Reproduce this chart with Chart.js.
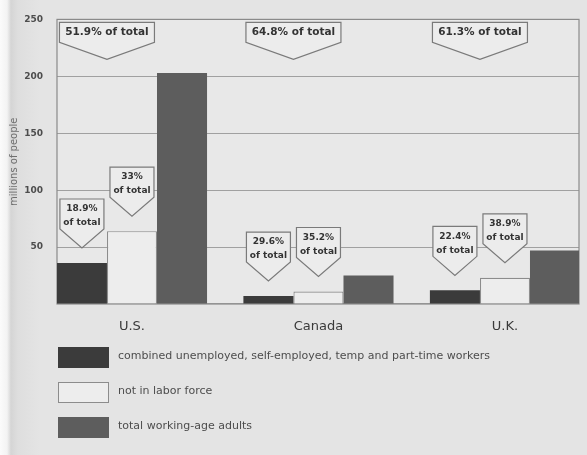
<!DOCTYPE html>
<html>
<head>
<meta charset="utf-8">
<script src="https://cdn.jsdelivr.net/npm/chart.js@4.4.1/dist/chart.umd.min.js"></script>
<style>
  html, body { margin: 0; padding: 0; }
  body {
    width: 587px; height: 455px; overflow: hidden; position: relative;
    background: linear-gradient(to right, #fbfbfb 0px, #f3f3f3 7px, #d5d5d5 11px, #dedede 18px, #e4e4e4 40px, #e4e4e4 100%);
    font-family: "DejaVu Sans", sans-serif;
  }
  #wrap { position: absolute; left: 0; top: 0; width: 587px; height: 455px; }
  .legend { position: absolute; left: 58px; top: 347px; }
  .legend-item { display: flex; align-items: center; height: 21px; margin-bottom: 14px; }
  .swatch { width: 51px; height: 21px; box-sizing: border-box; }
  .legend-text { margin-left: 9px; font-size: 11px; color: #4d4d4d; position: relative; top: -2px; }
</style>
</head>
<body>
<div id="wrap"><canvas id="chart" width="587" height="455"></canvas></div>
<div class="legend" id="legend"></div>
<script>
// chart values (millions of people)
const categories = ['U.S.', 'Canada', 'U.K.'];
const combinedWorkers = [36, 7, 12];
const notInLaborForce = [64, 11, 23];
const workingAgeAdults = [203, 25, 47];

// "% of total" callouts
const combinedShare = ['18.9%', '29.6%', '22.4%'];
const notInLaborShare = ['33%', '35.2%', '38.9%'];
const jointShare = ['51.9%', '64.8%', '61.3%'];

const seriesNames = [
    'combined unemployed, self-employed, temp and part-time workers',
    'not in labor force',
    'total working-age adults'
];
const seriesFill = ['#3b3b3b', '#ededed', '#5d5d5d'];
const seriesBorder = ['#3b3b3b', '#8c8c8c', '#5d5d5d'];

const toPoints = values => values.map((v, i) => ({ x: i, y: v }));

/**
 * Pentagon shaped callout pointing down at (cx, tipY)
 */
function drawCallout(ctx, cx, tipY, w, bodyH, notchH, lines, font, lineGap) {
    const top = tipY - bodyH - notchH;
    ctx.save();
    ctx.beginPath();
    ctx.moveTo(cx - w / 2, top);
    ctx.lineTo(cx + w / 2, top);
    ctx.lineTo(cx + w / 2, top + bodyH);
    ctx.lineTo(cx, tipY);
    ctx.lineTo(cx - w / 2, top + bodyH);
    ctx.closePath();
    ctx.fillStyle = '#ececec';
    ctx.fill();
    ctx.lineWidth = 1.2;
    ctx.strokeStyle = '#7a7a7a';
    ctx.stroke();
    ctx.fillStyle = '#333';
    ctx.font = font;
    ctx.textAlign = 'center';
    ctx.textBaseline = 'middle';
    lines.forEach((line, i) => {
        ctx.fillText(line, cx, top + 10 + i * lineGap);
    });
    ctx.restore();
}

const framePlugin = {
    id: 'frame',
    beforeDraw(chart) {
        const { ctx, chartArea: a } = chart;
        ctx.save();
        ctx.fillStyle = '#e8e8e8';
        ctx.fillRect(a.left, a.top, a.right - a.left, a.bottom - a.top);
        ctx.restore();
    },
    beforeDatasetsDraw(chart) {
        const { ctx, chartArea: a } = chart;
        ctx.save();
        ctx.strokeStyle = '#8a8a8a';
        ctx.lineWidth = 1.2;
        ctx.strokeRect(a.left, a.top, a.right - a.left, a.bottom - a.top);
        ctx.restore();
    }
};

const calloutPlugin = {
    id: 'callouts',
    afterDatasetsDraw(chart) {
        const { ctx, chartArea } = chart;
        const dark = chart.getDatasetMeta(0).data;
        const light = chart.getDatasetMeta(1).data;
        const smallFont = 'bold 9px "DejaVu Sans", sans-serif';
        categories.forEach((c, i) => {
            drawCallout(ctx, dark[i].x, dark[i].y - 15, 44, 30, 19,
                [combinedShare[i], 'of total'], smallFont, 14);
            drawCallout(ctx, light[i].x, light[i].y - 15, 44, 30, 19,
                [notInLaborShare[i], 'of total'], smallFont, 14);
            const mid = (dark[i].x + light[i].x) / 2;
            drawCallout(ctx, mid, chartArea.top + 40, 95, 20, 17,
                [jointShare[i] + ' of total'], 'bold 10.5px "DejaVu Sans", sans-serif', 0);
        });
    }
};

const valueSets = [combinedWorkers, notInLaborForce, workingAgeAdults];

new Chart(document.getElementById('chart'), {
    type: 'bar',
    data: {
        datasets: valueSets.map((values, k) => ({
            label: seriesNames[k],
            data: toPoints(values),
            backgroundColor: seriesFill[k],
            borderColor: seriesBorder[k],
            borderWidth: k === 1 ? 1.2 : 0,
            categoryPercentage: 0.805,
            barPercentage: 1
        }))
    },
    options: {
        responsive: false,
        animation: false,
        layout: { padding: { top: 19, right: 8, left: 0, bottom: 0 } },
        plugins: {
            legend: { display: false },
            tooltip: { enabled: false }
        },
        scales: {
            x: {
                type: 'linear',
                min: -0.402,
                max: 2.397,
                offset: false,
                grid: { display: false, drawTicks: false, offset: false },
                border: { display: false },
                afterBuildTicks: scale => {
                    scale.ticks = categories.map((c, i) => ({ value: i }));
                },
                afterFit: scale => { scale.height = 151; },
                ticks: {
                    autoSkip: false,
                    maxRotation: 0,
                    padding: 15,
                    color: '#3a3a3a',
                    font: { family: '"DejaVu Sans", sans-serif', size: 13 },
                    callback: value => categories[value] ?? ''
                }
            },
            y: {
                min: 0,
                max: 250,
                grid: { color: '#a0a0a0', lineWidth: 1.1, drawTicks: false },
                border: { display: false },
                afterFit: scale => { scale.width = 57; },
                ticks: {
                    stepSize: 50,
                    padding: 14,
                    color: '#4d4d4d',
                    font: { family: '"DejaVu Sans", sans-serif', size: 9, weight: 'bold' },
                    callback: value => value === 0 ? '' : value
                },
                title: {
                    display: true,
                    text: 'millions of people',
                    color: '#6e6e6e',
                    padding: { top: 8, bottom: 0 },
                    font: { family: '"DejaVu Sans", sans-serif', size: 10 }
                }
            }
        }
    },
    plugins: [framePlugin, calloutPlugin]
});

// legend, one row per series
const legend = document.getElementById('legend');
seriesNames.forEach((name, k) => {
    const item = document.createElement('div');
    item.className = 'legend-item';
    const sw = document.createElement('div');
    sw.className = 'swatch';
    sw.style.background = seriesFill[k];
    sw.style.border = '1.5px solid ' + seriesBorder[k];
    const txt = document.createElement('span');
    txt.className = 'legend-text';
    txt.textContent = name;
    item.appendChild(sw);
    item.appendChild(txt);
    legend.appendChild(item);
});
</script>
</body>
</html>
